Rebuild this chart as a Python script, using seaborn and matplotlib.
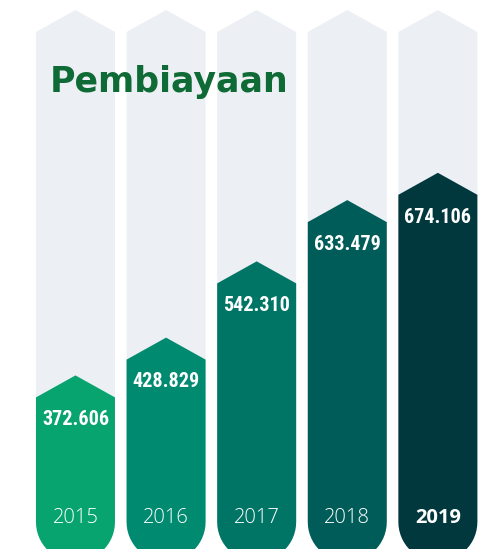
import numpy as np
import pandas as pd
import matplotlib
matplotlib.use("Agg")
import matplotlib.pyplot as plt
import matplotlib.transforms as mtransforms
from matplotlib import font_manager
from matplotlib.patches import Polygon
import seaborn as sns

years = ["2015", "2016", "2017", "2018", "2019"]
values = [372.606, 428.829, 542.310, 633.479, 674.106]
value_labels = ["372.606", "428.829", "542.310", "633.479", "674.106"]
title = "Pembiayaan"

bar_colors = ["#07A470", "#008A6F", "#007566", "#005C58", "#01383D"]
track_color = "#ECEFF3"
title_color = "#0E6B36"

sns.set_theme(style="white")

# look for a narrow bold face for the value labels
names = {f.name for f in font_manager.fontManager.ttflist}
cond = None
for cand in ["Roboto Condensed", "Liberation Sans Narrow", "DejaVu Sans Condensed", "Open Sans Condensed"]:
    if cand in names:
        cond = cand
        break
if cond is None:
    cond = "DejaVu Sans"

df = pd.DataFrame({"year": years, "value": values})

fig = plt.figure(figsize=(4.81, 5.49), dpi=100)
ax = fig.add_axes([0, 0, 1, 1])
sns.barplot(data=df, x="year", y="value", hue="year", palette=bar_colors,
            width=0.872, legend=False, ax=ax, saturation=1)
ax.set_xlim(-0.833, 4.476)
ax.set_ylim(147, 964)
ax.axis("off")

# scale: px per data unit
px_y = 549 / (964 - 147)
apex_h = 22 / px_y
round_start = 147 + (549 - 522) / px_y
ry = 39.5 / px_y


def arrow_shape(xc, hw, top, bottom_y):
    pts = []
    # rounded bottom
    for t in np.linspace(np.pi, 2 * np.pi, 30):
        pts.append((xc + hw * np.cos(t), bottom_y + ry * np.sin(t)))
    pts.append((xc + hw, top))
    pts.append((xc, top + apex_h))
    pts.append((xc - hw, top))
    return pts


track_top = 147 + (549 - 32) / px_y
trans = mtransforms.blended_transform_factory(ax.transData, ax.transAxes)
for i, p in enumerate(list(ax.patches)):
    xc = p.get_x() + p.get_width() / 2
    hw = p.get_width() / 2
    h = p.get_height()
    col = p.get_facecolor()
    p.set_visible(False)
    ax.add_patch(Polygon(arrow_shape(xc, hw, track_top, round_start), closed=True,
                         facecolor=track_color, edgecolor="none", zorder=1))
    ax.add_patch(Polygon(arrow_shape(xc, hw, h, round_start), closed=True,
                         facecolor=col, edgecolor="none", zorder=2))
    ax.annotate(value_labels[i], (xc, h), xytext=(0, -16), textcoords="offset points",
                ha="center", va="center", color="white", fontsize=14.5,
                fontweight="bold", family=[cond, "DejaVu Sans"], fontstretch="condensed", zorder=3)
    last = i == len(years) - 1
    ax.text(xc, 1 - 518 / 549, years[i], transform=trans, ha="center", va="center",
            color="white", fontsize=14.5, fontweight="bold" if last else "light",
            family=["Open Sans", "DejaVu Sans"], zorder=3)

fig.text(50 / 481, 1 - 92 / 549, title, ha="left", va="baseline", color=title_color,
         fontsize=25, fontweight="bold", family=["DejaVu Sans"])

fig.savefig("out.png", dpi=100)
